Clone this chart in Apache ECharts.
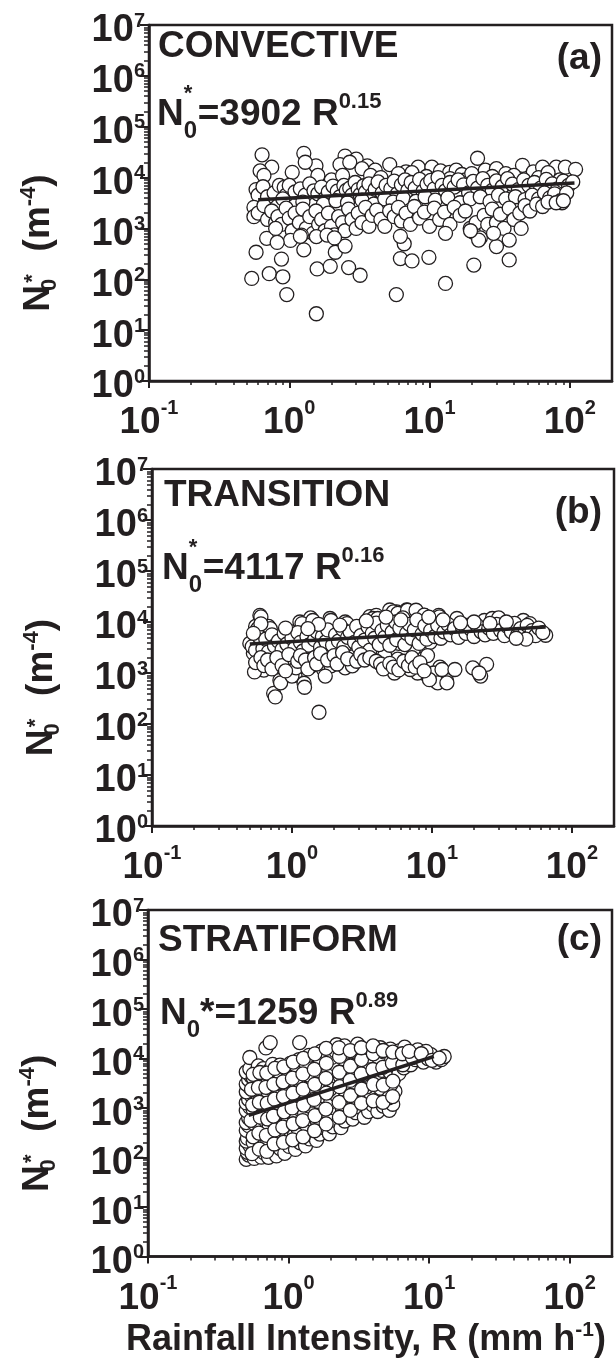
<!DOCTYPE html>
<html><head><meta charset="utf-8">
<script src="https://cdn.jsdelivr.net/npm/echarts@6/dist/echarts.min.js"></script>
<style>html,body{margin:0;padding:0;background:#fff}#c{width:616px;height:1359px}</style>
</head><body><div id="c"></div>
<script>
// ---------------- tick values / labels ----------------
const xTicks = [0.1, 1, 10, 100];
const xTickExp = ['-1', '0', '1', '2'];
const yTicks = [1, 10, 100, 1e3, 1e4, 1e5, 1e6, 1e7];
const yTickExp = ['0', '1', '2', '3', '4', '5', '6', '7'];
const mantissas = [2, 3, 4, 5, 6, 7, 8, 9];
const xDecades = [0.1, 1, 10];
const yDecades = [1, 10, 100, 1e3, 1e4, 1e5, 1e6];

// ---------------- data: [R (mm/h), N0* (m^-4)] ----------------
const convective = [
[0.64,28000],[1.27,30000],[0.75,16000],[0.62,13500],[0.66,11000],[1.05,12700],[1.55,17000],[2.5,26500],[3.0,23000],[3.6,17000],
[2.3,18000],[2.7,20000],[3.3,15000],[5.2,18000],[4.1,14000],[6.8,13000],[8.3,16000],[10.4,16000],[12,13500],[13.9,12600],
[15.5,14000],[17,11500],[22,24000],[25,14000],[30,15000],[35,12000],[46,17400],[55,13000],[64,16000],[80,16000],
[93,16000],[110,14500],[1.6,11000],[1.3,20000],[2.0,9000],[2.4,11000],[3.8,11000],[4.5,10000],[6,12000],[7.5,12500],
[9.5,10500],[11,9500],[14,9500],[18,9000],[20,12000],[28,10500],[40,11000],[60,10000],[70,12500],[85,9000],
[0.58,5800],[0.6,4500],[0.65,6600],[0.7,4200],[0.78,5000],[0.85,7000],[0.92,6400],[0.95,4500],[1.0,7000],[1.1,5200],
[1.2,6000],[1.3,4500],[1.4,7500],[1.5,5500],[1.6,4800],[1.7,6500],[1.8,3900],[1.9,5200],[2.05,6800],[2.2,5400],
[2.3,4200],[2.45,7000],[2.55,5600],[2.7,6200],[2.8,4500],[2.95,8000],[3.1,5800],[3.2,4600],[3.4,6900],[3.5,5200],
[3.7,7500],[3.9,4600],[4.1,5900],[4.3,8200],[4.6,5000],[4.9,7000],[5.3,6000],[5.6,8500],[5.9,4800],[6.3,7200],
[6.7,9000],[7.0,5600],[7.4,8000],[7.9,6200],[8.5,9200],[9.0,5400],[9.6,7400],[10.2,8800],[10.8,6000],[11.5,10000],
[12.3,7000],[13,5500],[14,8000],[15,6500],[16,9000],[17.5,7200],[19,5000],[20.5,8400],[22,6200],[24,9500],
[26,7000],[28,5600],[30,8600],[33,6600],[36,9500],[39,7400],[43,5800],[47,9000],[51,7000],[56,8000],
[62,6200],[68,9200],[75,7500],[82,6000],[90,8500],[98,7000],[105,8200],[0.9,3800],[1.25,3300],[1.75,3000],
[2.15,3500],[2.6,3200],[3.3,3600],[4.0,3000],[4.8,3800],[5.5,3300],[6.5,3900],[8.0,3400],[9.3,4200],[11,3600],
[13.5,4000],[16.5,3200],[19.5,3800],[23,4200],[27,3400],[31,4500],[35,3800],[41,4200],[48,3700],[54,4500],
[60,3800],[66,5000],[72,4000],[78,4800],[86,3500],[95,5000],[88,3200],
[0.56,2600],[0.56,1700],[0.6,2000],[0.66,2800],[0.7,1500],[0.75,2200],[0.8,1300],[0.83,1700],[0.88,1200],[0.95,2500],
[1.0,1600],[1.05,900],[1.1,2000],[1.18,1300],[1.25,2400],[1.32,1000],[1.4,1700],[1.48,800],[1.55,2200],[1.62,1200],
[1.7,1500],[1.8,900],[1.9,2000],[2.0,1100],[2.1,750],[2.25,1700],[2.4,1300],[2.5,900],[2.65,2400],[2.8,1500],
[3.0,1000],[3.1,2000],[3.3,1300],[3.5,2600],[3.7,1100],[3.9,1800],[4.2,2300],[4.5,1500],[4.8,1100],[5.2,2200],
[5.6,1700],[6.0,2600],[6.3,1400],[6.8,2000],[7.3,1200],[7.8,2700],[8.5,1600],[9.2,2100],[10,1100],[10.8,2500],
[11.8,1500],[12.8,2100],[14,1200],[15,2600],[16.5,1800],[18,2200],[19.5,1000],[20.5,850],[21.5,1300],[23,650],
[24.5,1800],[26,1200],[28,2400],[30,1300],[32,1900],[34,1000],[37,2500],[40,1500],[44,2000],[48,2800],
[52,2200],[58,3000],[64,2700],[70,3300],[80,3200],[90,3500],
[0.54,104],[0.58,340],[0.72,129],[0.9,112],[0.88,250],[0.96,50],[1.56,21],[1.58,160],[1.96,180],[2.65,170],
[3.2,120],[2.13,340],[2.5,450],[5.8,50],[6.2,255],[7.5,230],[9.9,270],[13,83],[20.7,190],[37,240],
[13,800],[6.6,500],[30,440],[37,590],[22.4,590],[28.6,800],[45,1000],[1.27,380],[1.02,580],[0.69,640],
[0.82,530],[1.22,740],[1.56,690],[1.86,740],[6.2,700],[19.6,900],[0.8,1000],[1.2,700],[2.1,650]
];
const convectiveFit = [[0.6, 3650], [108, 7800]];

const transition = [
[0.59,13500],[0.55,8200],[0.68,8200],[0.5,3800],[0.56,4400],[0.63,3500],[0.53,2450],[0.65,2090],[0.78,2450],[0.63,1140],
[0.76,1400],[0.82,720],[0.74,400],[0.97,6500],[0.95,1950],[1.05,900],[1.1,2820],[1.14,10000],[1.22,630],[1.36,12000],
[1.34,1300],[1.5,3810],[1.56,170],[1.72,1550],[1.9,1550],[1.87,11700],[1.9,2820],[2.25,5150],[2.4,10000],[2.7,1550],
[2.6,3810],[3.06,8200],[3.4,3050],[3.6,12700],[4.0,13500],[4.5,9400],[4.5,2450],[5.0,17200],[5.0,1700],[5.6,15800],
[5.8,3810],[5.9,1250],[6.6,17200],[6.3,7000],[7.0,11000],[7.6,16000],[7.8,6000],[8.2,2090],[8.8,13500],[9.3,8200],
[9.0,950],[9.7,4000],[10.4,720],[11.2,13500],[11.4,1300],[12.7,720],
[0.6,12600],[0.57,7400],[0.7,7400],[0.96,5400],[1.18,9300],[1.41,10700],[1.9,10700],[2.47,9300],[3.2,6900],[3.8,11700],
[4.1,11700],[5.3,15800],[5.7,14700],[6.7,17000],[7.7,17000],[8.8,13600],[11.3,12600],[15.1,11700],[18.3,8700],[23.7,10700],
[27,11700],[30,12000],[45,10700],[50,9300],[65,5500],
[0.76,340],[1.23,525],[0.83,640],[0.54,1050],[0.7,2200],[0.8,1600],[1.0,870],[1.07,1260],[1.38,1400],[1.68,1170],
[1.9,1380],[1.73,870],[2.4,1260],[2.7,1380],
[10.3,1000],[11,640],[11.8,1170],[12.8,640],[14.6,1170],[9.6,740],[7.9,1000],[7.0,1170],[6.1,1380],[5.4,1000],
[4.9,1380],[4.6,2200],[5.7,1870],[8.4,1870],[19.6,1260],[22.3,870],[24.6,1480],[21.7,1000],[9.3,2200],[7.4,2950],
[0.52,3300],[0.55,2800],[0.58,5200],[0.62,3000],[0.65,4600],[0.68,2600],[0.72,5600],[0.75,3400],[0.8,4200],[0.85,2900],
[0.88,6000],[0.92,3700],[1.0,4800],[1.05,3100],[1.1,6200],[1.15,4000],[1.2,2700],[1.28,5200],[1.32,3500],[1.45,4500],
[1.5,6500],[1.6,3200],[1.65,5200],[1.75,4100],[1.8,7000],[1.95,3500],[2.05,5600],[2.15,4200],[2.3,7200],[2.35,3300],
[2.5,5000],[2.6,6400],[2.8,4000],[2.9,8200],[3.0,3200],[3.1,5400],[3.3,4400],[3.5,8000],[3.6,2800],[3.75,6000],
[3.9,4800],[4.0,9500],[4.2,3600],[4.4,6800],[4.6,5000],[4.8,8600],[5.0,3500],[5.2,6400],[5.5,10000],[5.6,4500],
[5.9,7600],[6.2,12000],[6.4,3600],[6.6,6000],[6.9,9000],[7.2,4800],[7.5,7000],[7.8,11000],[8.1,3800],[8.5,5800],
[8.9,8400],[9.2,4600],[9.8,6800],[10.5,5200],[11,8600],[11.6,4800],[12.2,6400],[13,9000],[13.6,5600],[14.5,7400],
[15.5,5000],[16.5,8000],[17.5,6000],[19,7200],[20,5200],[21,8600],[22.5,6400],[24,5600],[25.5,7600],[27.5,6000],
[29,9000],[31,6800],[33,5400],[35,8000],[37,6400],[39,9400],[41,5600],[43,7400],[46,6000],[48,8600],
[52,6800],[55,5400],[58,7600],[62,6200],[47,4600],[40,4800],[34,10000],[26,9400],[20,10000],[16,9600],
[12,11000],[9.5,12500],[6,11000],[4.7,12500],[3.4,10500],[2.2,8700],[1.55,9000],[1.3,7400],[0.9,7600],[0.6,9200],
[0.53,6000],
[0.55,1600],[0.6,2000],[0.63,1400],[0.67,1800],[0.72,1200],[0.78,2000],[0.85,1400],[0.9,1100],[0.95,2300],[1.1,1700],
[1.15,2200],[1.25,1800],[1.3,1200],[1.45,2000],[1.5,1500],[1.6,2400],[1.8,1800],[2.0,2200],[2.1,1500],[2.3,2500],
[2.5,1900],[2.9,1700],[3.1,2300],[3.3,1800],[3.6,2000],[4.0,1700],[4.3,1500],[4.5,1200],[5.0,1550],[5.3,1300],
[5.8,1150],[6.3,1700],[6.8,1400],[7.2,2000],[7.6,1300],[8.2,1600],[8.8,1100]
];
const transitionFit = [[0.5, 3700], [65, 8000]];

const stratiform = [
[0.5,92],[0.52,112],[0.51,128],[0.5,155],[0.53,176],[0.5,215],[0.51,246],[0.54,310],[0.5,355],[0.52,440],
[0.5,510],[0.52,630],[0.54,730],[0.5,890],[0.53,1040],[0.5,1270],[0.52,1480],[0.54,1820],[0.5,2130],[0.53,2620],
[0.5,3050],[0.52,3750],[0.54,4350],[0.5,5350],[0.53,6200],[0.53,10500],
[0.57,96],[0.6,138],[0.56,205],[0.58,265],[0.61,390],[0.57,490],[0.6,710],[0.56,940],[0.59,1320],[0.61,1680],
[0.57,2320],[0.6,2950],[0.56,4050],[0.59,5450],[0.61,7100],
[0.64,102],[0.67,124],[0.63,172],[0.68,236],[0.65,335],[0.62,455],[0.67,590],[0.64,830],[0.69,1090],[0.63,1520],
[0.66,1980],[0.64,2720],[0.68,3580],[0.63,4850],[0.66,6250],[0.69,16400],
[0.72,101],[0.76,158],[0.71,224],[0.78,296],[0.73,425],[0.77,555],[0.7,770],[0.75,990],[0.79,1360],[0.72,1790],
[0.76,2420],[0.71,3180],[0.78,4330],[0.73,5750],[0.77,7650],[0.74,21000],
[0.82,108],[0.87,152],[0.8,207],[0.89,293],[0.84,396],[0.91,545],[0.81,715],[0.88,985],[0.83,1290],[0.9,1760],
[0.85,2340],[0.82,3120],[0.89,4180],[0.84,5620],[0.87,7350],
[0.94,122],[1.01,168],[0.96,243],[1.04,327],[0.93,455],[1.0,596],[1.05,805],[0.95,1075],[1.02,1460],[0.97,1940],
[1.04,2610],[0.94,3480],[1.01,4720],[0.96,6280],[1.03,7950],
[1.12,146],[1.21,198],[1.1,284],[1.17,377],[1.24,524],[1.13,697],[1.2,955],[1.26,1245],[1.11,1710],[1.18,2290],
[1.23,3120],[1.14,4080],[1.21,5520],[1.12,7380],[1.19,9550],[1.2,21000],
[1.32,172],[1.41,238],[1.48,333],[1.35,446],[1.44,604],[1.3,796],[1.39,1105],[1.47,1440],[1.33,1960],[1.42,2590],
[1.5,3520],[1.36,4680],[1.45,6330],[1.31,8450],[1.4,11600],
[1.58,222],[1.67,298],[1.76,404],[1.6,548],[1.71,745],[1.79,995],[1.63,1355],[1.73,1790],[1.57,2410],[1.69,3190],
[1.77,4320],[1.62,5780],[1.75,7830],[1.65,10450],[1.71,14100],
[1.95,302],[2.06,418],[2.16,563],[1.92,748],[2.11,1005],[2.0,1345],[2.19,1810],[1.97,2390],[2.09,3210],[2.21,4290],
[1.93,5820],[2.13,7780],[2.03,10550],[2.17,13900],[2.2,19000],
[2.36,402],[2.51,548],[2.66,745],[2.41,995],[2.59,1355],[2.71,1795],[2.46,2410],[2.63,3190],[2.33,4320],[2.56,5680],
[2.69,7630],[2.43,9950],[2.61,13600],[2.5,18000],
[2.86,598],[3.01,805],[3.21,1045],[2.91,1405],[3.11,1895],[3.29,2510],[2.96,3290],[3.16,4420],[2.83,5880],[3.06,7830],
[3.26,10450],[2.93,14100],[3.1,19500],
[3.46,652],[3.71,848],[3.96,1155],[3.51,1545],[3.81,2055],[3.61,2690],[3.91,3610],[3.41,4790],[3.76,6420],[3.56,8480],
[3.86,11050],[3.66,14900],
[4.31,852],[4.71,1095],[4.21,1455],[4.91,1895],[4.51,2510],[4.81,3290],[4.26,4420],[4.61,5780],[4.96,7720],[4.41,10150],
[4.76,13600],[4.5,16500],
[5.21,902],[5.51,1195],[5.16,1605],[5.71,2190],[5.36,3010],[5.61,3990],[5.26,5320],[5.76,6980],[5.41,9220],[5.66,11950],
[5.3,15500],
[6.1,5000],[6.6,6500],[6.3,8500],[6.9,11000],[6.2,14500],[6.7,17000],
[7.4,7500],[8.0,9500],[7.7,12000],[8.3,15000],
[9.1,8500],[9.8,10000],[10.3,12000],[9.5,14000],
[11.2,8500],[12.2,9500],[12.8,11000],
[0.55,120],[0.56,262],[0.54,565],[0.555,1150],[0.545,2400],[0.56,4800],
[0.62,148],[0.615,312],[0.63,655],[0.62,1310],[0.61,2610],[0.625,5220],
[0.7,133],[0.695,281],[0.71,602],[0.705,1255],[0.69,2620],[0.7,5090],
[0.79,188],[0.8,362],[0.78,688],[0.795,1510],[0.785,3010],[0.8,6320],
[0.92,202],[0.91,412],[0.93,838],[0.92,1705],[0.915,3390],[0.925,6810],
[1.07,228],[1.08,482],[1.06,1005],[1.075,1995],[1.065,4010],[1.08,8480],
[1.27,262],[1.26,558],[1.28,1148],[1.27,2405],[1.265,4890],[1.275,10050],
[1.53,348],[1.54,702],[1.52,1495],[1.535,3010],[1.525,6020],[1.54,12450],
[1.85,478],[1.84,952],[1.86,2005],[1.845,3990],[1.855,8020],[1.85,16050],
[2.3,652],[2.29,1298],[2.31,2705],[2.295,5290],[2.305,11020],[2.28,16480],
[2.75,902],[2.76,1795],[2.74,3610],[2.755,7010],[2.745,14480],
[3.3,1248],[3.31,2405],[3.29,4895],[3.305,9510],[3.295,16520],
[4.0,1402],[4.02,2995],[3.98,6010],[4.01,12480],[3.99,18020],
[4.7,1305],[4.72,2895],[4.68,6610],[4.71,14520],
[5.5,1705],[5.52,3495],[5.48,8010],[5.51,13480],
[6.5,7500],[6.45,12500],[7.6,10500],[7.2,14000],[8.8,12500],[10.5,9200],[11.8,10200]
];
const stratiformFit = [[0.52, 710], [10.8, 11000]];

// ---------------- styling ----------------
const INK = '#231f20';
const FONT = '"Liberation Sans", Arial, Helvetica, sans-serif';

function tok(size, extra) {
  return Object.assign({fontSize: size, fontWeight: 'bold', fontFamily: FONT, color: INK, lineHeight: size}, extra || {});
}
function gtok(size, extra) {
  return Object.assign({fontSize: size, fontWeight: 'bold', fontFamily: FONT, fill: INK, lineHeight: size}, extra || {});
}
function expFormatter(ticks, exps) {
  return function (v) {
    let best = -1, bd = 1e9;
    ticks.forEach((t, i) => { const d = Math.abs(Math.log10(t) - Math.log10(v)); if (d < bd) { bd = d; best = i; } });
    return bd < 1e-6 ? '{b|10}{s|' + exps[best] + '}' : '';
  };
}
const xMinorTicks = xDecades.flatMap(d => mantissas.map(m => +(m * d).toPrecision(3)));
const yMinorTicks = yDecades.flatMap(d => mantissas.map(m => +(m * d).toPrecision(3)));

const panels = [
  {box: [149, 25, 463, 356], data: convective, fit: convectiveFit, title: 'CONVECTIVE', tag: '(a)',
   titlePos: [158, 28], tagPos: 40, eqPos: [157, 83], eq: '{b|N}{sub|0}{st|*}{b|=3902 R}{sup|0.15}'},
  {box: [152, 469, 462, 357], data: transition, fit: transitionFit, title: 'TRANSITION', tag: '(b)',
   titlePos: [164, 477], tagPos: 494, eqPos: [162, 537], eq: '{b|N}{sub|0}{st|*}{b|=4117 R}{sup|0.16}'},
  {box: [148, 910, 464, 352], data: stratiform, fit: stratiformFit, title: 'STRATIFORM', tag: '(c)',
   titlePos: [158, 922], tagPos: 921, eqPos: [160, 982], eq: '{b|N}{subw|0}{b|*=1259 R}{sup|0.89}'}
];

const eqRich = {
  b: gtok(37, {lineHeight: 64, verticalAlign: 'middle'}),
  sub: gtok(24, {verticalAlign: 'top', padding: [36, 0, 0, 0], width: 0}),
  subw: gtok(24, {verticalAlign: 'top', padding: [36, 0, 0, 0]}),
  st: gtok(22, {verticalAlign: 'top', padding: [0, 0, 0, 0], width: 14}),
  sup: gtok(22, {verticalAlign: 'top', padding: [8, 0, 0, 0]})
};
const yNameRich = {
  b: tok(37, {lineHeight: 56, verticalAlign: 'middle'}),
  sub: tok(22, {verticalAlign: 'top', padding: [28, 0, 0, 0], width: 0}),
  st: tok(22, {verticalAlign: 'top', padding: [11, 0, 0, 0], width: 13}),
  sup: tok(22, {verticalAlign: 'top', padding: [7, 0, 0, 0]})
};

const option = {animation: false, backgroundColor: '#fff', grid: [], xAxis: [], yAxis: [], series: [], graphic: []};

panels.forEach((p, i) => {
  option.grid.push({left: p.box[0], top: p.box[1], width: p.box[2], height: p.box[3], show: true,
    borderColor: INK, borderWidth: 2.5, backgroundColor: 'transparent'});
  const xMain = {
    type: 'log', logBase: 10, gridIndex: i, min: 0.1, max: 200, position: 'bottom',
    axisLine: {show: true, onZero: false, lineStyle: {color: INK, width: 2.5}},
    axisTick: {show: true, inside: false, length: 7, customValues: xTicks, lineStyle: {color: INK, width: 2}},
    axisLabel: {show: true, customValues: xTicks, margin: 17, formatter: expFormatter(xTicks, xTickExp),
      rich: {b: tok(37, {lineHeight: 50}), s: tok(20, {verticalAlign: 'top'})}},
    splitLine: {show: false}, minorTick: {show: false}
  };
  if (i === 2) {
    Object.assign(xMain, {name: '{b|Rainfall Intensity, R (mm h}{s|-1}{b|)}', nameLocation: 'middle', nameGap: 52,
      nameTextStyle: {padding: [0, 28, 0, 0],
        rich: {b: tok(36, {lineHeight: 44}), s: tok(21, {verticalAlign: 'top', padding: [2, 0, 0, 0]})}}});
  }
  option.xAxis.push(xMain);
  option.xAxis.push({
    type: 'log', logBase: 10, gridIndex: i, min: 0.1, max: 200, position: 'bottom',
    axisLine: {show: false, onZero: false},
    axisTick: {show: true, inside: false, length: 4, customValues: xMinorTicks, lineStyle: {color: INK, width: 1.5}},
    axisLabel: {show: false}, splitLine: {show: false}
  });
  option.yAxis.push({
    type: 'log', logBase: 10, gridIndex: i, min: 1, max: 1e7, position: 'left',
    axisLine: {show: true, onZero: false, lineStyle: {color: INK, width: 2.5}},
    axisTick: {show: true, inside: false, length: 9, customValues: yTicks, lineStyle: {color: INK, width: 2}},
    axisLabel: {show: true, customValues: yTicks, margin: 4, padding: [12, 0, 0, 0],
      formatter: expFormatter(yTicks, yTickExp),
      rich: {b: tok(38, {lineHeight: 40}), s: tok(20, {verticalAlign: 'top'})}},
    splitLine: {show: false},
    name: '{b|N}{sub|0}{st|*}{b|  (m}{sup|-4}{b|)}', nameLocation: 'middle', nameRotate: 90, nameGap: 82,
    nameTextStyle: {padding: [0, 80, 0, 0], rich: yNameRich}
  });
  option.yAxis.push({
    type: 'log', logBase: 10, gridIndex: i, min: 1, max: 1e7, position: 'left',
    axisLine: {show: false, onZero: false},
    axisTick: {show: true, inside: false, length: 5, customValues: yMinorTicks, lineStyle: {color: INK, width: 1.5}},
    axisLabel: {show: false}, splitLine: {show: false}
  });
  option.series.push({
    type: 'scatter', xAxisIndex: 2 * i, yAxisIndex: 2 * i, data: p.data, symbol: 'circle', symbolSize: 14,
    itemStyle: {color: '#fff', borderColor: INK, borderWidth: 1.3, opacity: 1}, silent: true, z: 2
  });
  option.series.push({
    type: 'line', xAxisIndex: 2 * i, yAxisIndex: 2 * i, data: p.fit, showSymbol: false, symbol: 'none',
    lineStyle: {color: INK, width: 3.5}, silent: true, z: 3
  });
  option.graphic.push({type: 'text', left: p.titlePos[0], top: p.titlePos[1], z: 10,
    style: {text: p.title, font: 'bold 37px ' + FONT, fill: INK, lineHeight: 37}});
  option.graphic.push({type: 'text', right: 14, top: p.tagPos, z: 10,
    style: {text: p.tag, font: 'bold 37px ' + FONT, fill: INK, lineHeight: 37}});
  option.graphic.push({type: 'text', left: p.eqPos[0], top: p.eqPos[1], z: 10,
    style: {text: p.eq, rich: eqRich, font: 'bold 37px ' + FONT, fill: INK}});
});

const chart = echarts.init(document.getElementById('c'), null, {renderer: 'canvas'});
chart.setOption(option);
</script>
</body></html>
